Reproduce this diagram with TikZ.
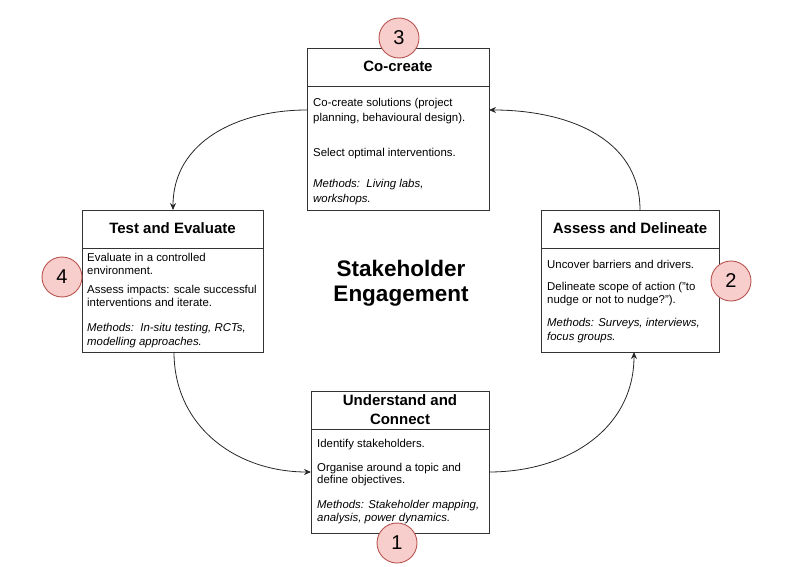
\documentclass[tikz,border=0pt]{standalone}
\usepackage{fontspec}
\setmainfont{Liberation Sans}
\usetikzlibrary{arrows.meta}
\definecolor{boxline}{HTML}{333333}
\definecolor{badgefill}{HTML}{F8CECC}
\definecolor{badgeline}{HTML}{B85450}
\tikzset{
  stagebox/.style={draw=boxline, line width=0.9pt, fill=white},
  divider/.style={draw=boxline, line width=0.9pt},
  headtxt/.style={anchor=base, inner sep=0pt, font=\fontsize{15}{17}\selectfont\bfseries},
  bodytxt/.style={anchor=base west, inner sep=0pt, font=\fontsize{11.4}{13}\selectfont},
  methtxt/.style={bodytxt, font=\fontsize{11.4}{13}\selectfont\itshape},
  badge/.style={circle, draw=badgeline, fill=badgefill, line width=0.9pt, minimum size=40pt, inner sep=0pt, font=\fontsize{20}{22}\selectfont},
  flow/.style={draw=black!85, line width=0.8pt, -{Stealth[length=7pt,width=6pt]}},
  titletxt/.style={anchor=base, inner sep=0pt, font=\fontsize{22.5}{26}\selectfont\bfseries}
}
\begin{document}
\begin{tikzpicture}[x=1pt,y=-1pt]
\useasboundingbox (0,0) rectangle (800,567);
% boxes
\node[stagebox, inner sep=0pt, anchor=north west, minimum width=182pt, minimum height=162pt] (cc) at (307,48) {};
\draw[divider] (307,86) -- (489,86);
\node[stagebox, inner sep=0pt, anchor=north west, minimum width=181pt, minimum height=142pt] (te) at (82,210) {};
\draw[divider] (82,248) -- (263,248);
\node[stagebox, inner sep=0pt, anchor=north west, minimum width=178pt, minimum height=142pt] (ad) at (541,210) {};
\draw[divider] (541,248) -- (719,248);
\node[stagebox, inner sep=0pt, anchor=north west, minimum width=178pt, minimum height=142pt] (uc) at (311,391) {};
\draw[divider] (311,429) -- (489,429);

% headers
\node[headtxt] (cch) at (398,72) {Co-create};
\node[headtxt] (teh) at (172.5,233) {Test and Evaluate};
\node[headtxt] (adh) at (630,233) {Assess and Delineate};
\node[headtxt] (uch1) at (400,405) {Understand and};
\node[headtxt] (uch2) at (400,424) {Connect};

% co-create body
\node[bodytxt] (cc1) at (313,107) {Co-create solutions (project};
\node[bodytxt] (cc2) at (313,122) {planning, behavioural design).};
\node[bodytxt] (cc3) at (313,157) {Select optimal interventions.};
\node[methtxt] (cc4) at (313,187) {Methods:\ \ Living labs,};
\node[methtxt] (cc5) at (313,202) {workshops.};

% test body
\node[bodytxt] (te1) at (87,261) {Evaluate in a controlled};
\node[bodytxt] (te2) at (87,274) {environment.};
\node[bodytxt] (te3) at (87,293) {Assess impacts: scale successful};
\node[bodytxt] (te4) at (87,306) {interventions and iterate.};
\node[methtxt] (te5) at (87,331) {Methods:\ \ In-situ testing, RCTs,};
\node[methtxt] (te6) at (87,345) {modelling approaches.};

% assess body
\node[bodytxt] (ad1) at (547,268) {Uncover barriers and drivers.};
\node[bodytxt] (ad2) at (547,290) {Delineate scope of action ("to};
\node[bodytxt] (ad3) at (547,303) {nudge or not to nudge?").};
\node[methtxt] (ad4) at (547,326) {Methods: Surveys, interviews,};
\node[methtxt] (ad5) at (547,340) {focus groups.};

% understand body
\node[bodytxt] (uc1) at (317,447) {Identify stakeholders.};
\node[bodytxt] (uc2) at (317,471) {Organise around a topic and};
\node[bodytxt] (uc3) at (317,483) {define objectives.};
\node[methtxt] (uc4) at (317,508) {Methods: Stakeholder mapping,};
\node[methtxt] (uc5) at (317,521) {analysis, power dynamics.};

% title
\node[titletxt] (t1) at (401,276) {Stakeholder};
\node[titletxt] (t2) at (401,301) {Engagement};

% badges
\node[badge] (b1) at (397,543) {1};
\node[badge] (b2) at (731,281) {2};
\node[badge] (b3) at (399,38) {3};
\node[badge] (b4) at (62,277) {4};

% connector end points
\coordinate (ccL) at (307,110);
\coordinate (ccR) at (489,110);
\coordinate (teT) at (173,210);
\coordinate (teB) at (174,352);
\coordinate (adT) at (640,210);
\coordinate (adB) at (634,352);
\coordinate (ucL) at (311,472);
\coordinate (ucR) at (489,472);

\draw[flow] (ccL) to[out=180,in=90,looseness=1.05] (teT);
\draw[flow] (teB) to[out=-90,in=180,looseness=1.05] (ucL);
\draw[flow] (ucR) to[out=0,in=-90,looseness=1.05] (adB);
\draw[flow] (adT) to[out=90,in=0,looseness=1.05] (ccR);
\end{tikzpicture}
\end{document}
